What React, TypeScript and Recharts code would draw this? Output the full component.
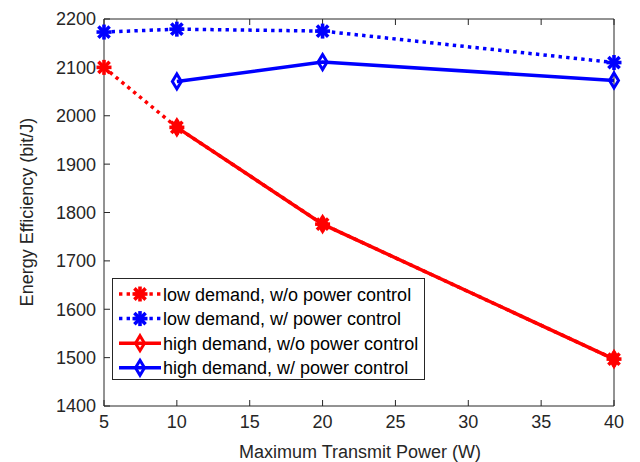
import React from 'react'
import {
    LineChart,
    Line,
    XAxis,
    YAxis,
    Legend,
    Label,
} from 'recharts';

// power levels (W)
const powers = [5, 10, 20, 40];
// energy efficiency (bit/J)
const lowDemandNoPC = [2100, 1976, 1776, 1497];
const lowDemandPC = [2173, 2179, 2175, 2110];
const highDemandNoPC = [null, 1976, 1776, 1497];
const highDemandPC = [null, 2071, 2111, 2073];

const xTicks = [5, 10, 15, 20, 25, 30, 35, 40];
const yTicks = [1400, 1500, 1600, 1700, 1800, 1900, 2000, 2100, 2200];

const seriesNames = [
    'low demand, w/o power control',
    'low demand, w/ power control',
    'high demand, w/o power control',
    'high demand, w/ power control',
];

const RED = '#ff0000';
const BLUE = '#0000ff';
const AXIS = '#262626';
const FONT = '"Liberation Sans", Arial, sans-serif';
const DOTTED = '3.4 4.2';

const data = powers.map((p, i) => ({
    power: p,
    lowNoPC: lowDemandNoPC[i],
    lowPC: lowDemandPC[i],
    highNoPC: highDemandNoPC[i],
    highPC: highDemandPC[i],
}));

// matlab-style '*' marker, drawn thick so it reads as a spiky blob
const StarMark = ({ cx, cy, color }: { cx: number, cy: number, color: string }) => {
    const r = 7.5;
    const d = r * 0.75;
    return (
        <g stroke={color} strokeWidth={3.6}>
            <line x1={cx - r} y1={cy} x2={cx + r} y2={cy} />
            <line x1={cx} y1={cy - r} x2={cx} y2={cy + r} />
            <line x1={cx - d} y1={cy - d} x2={cx + d} y2={cy + d} />
            <line x1={cx - d} y1={cy + d} x2={cx + d} y2={cy - d} />
            <circle cx={cx} cy={cy} r={3.5} fill={color} stroke="none" />
        </g>
    )
}

const DiamondMark = ({ cx, cy, color }: { cx: number, cy: number, color: string }) => (
    <polygon
        points={`${cx},${cy - 7.5} ${cx + 4.5},${cy} ${cx},${cy + 7.5} ${cx - 4.5},${cy}`}
        fill="none" stroke={color} strokeWidth={3} strokeLinejoin="miter"
    />
)

const starDot = (color: string) => (props: any) => {
    if (props.cy == null || props.value == null) return <g key={props.index} />;
    return <StarMark key={props.index} cx={props.cx} cy={props.cy} color={color} />
}

const diamondDot = (color: string) => (props: any) => {
    if (props.cy == null || props.value == null) return <g key={props.index} />;
    return <DiamondMark key={props.index} cx={props.cx} cy={props.cy} color={color} />
}

const legendRows = [
    { name: seriesNames[0], color: RED, dashed: true, mark: 'star' },
    { name: seriesNames[1], color: BLUE, dashed: true, mark: 'star' },
    { name: seriesNames[2], color: RED, dashed: false, mark: 'diamond' },
    { name: seriesNames[3], color: BLUE, dashed: false, mark: 'diamond' },
];

const LegendBox = () => (
    <div style={{
        width: 311, height: 100, border: `1px solid ${AXIS}`, background: '#fff',
        fontFamily: FONT, fontSize: 18, color: '#000',
    }}>
        <svg width={311} height={100} style={{ display: 'block' }}>
            {legendRows.map((row, i) => {
                const y = 15 + i * 24.6;
                return (
                    <g key={row.name}>
                        <line x1={6} x2={48} y1={y} y2={y} stroke={row.color} strokeWidth={3.5}
                            strokeDasharray={row.dashed ? DOTTED : undefined} />
                        {row.mark === 'star'
                            ? <StarMark cx={27} cy={y} color={row.color} />
                            : <DiamondMark cx={27} cy={y} color={row.color} />}
                        <text x={50} y={y + 6.5} fontFamily={FONT} fontSize={18} fill="#000">{row.name}</text>
                    </g>
                )
            })}
        </svg>
    </div>
)

export default function App() {
    return (
        <div style={{ position: 'absolute', left: 0, top: 0, width: 640, height: 462, background: '#fff' }}>
            <LineChart width={640} height={462} data={data} margin={{ top: 18, right: 25, left: 0, bottom: 0 }}>
                <XAxis dataKey="power" type="number" domain={[5, 40]} ticks={xTicks} height={56}
                    stroke={AXIS} tickSize={-6} tickMargin={15}
                    tick={{ fill: AXIS, fontSize: 18, fontFamily: FONT }}>
                    <Label content={() => (
                        <text x={360} y={458} textAnchor="middle" fill={AXIS} fontSize={18} fontFamily={FONT}>
                            Maximum Transmit Power (W)
                        </text>
                    )} />
                </XAxis>
                {/* box edges: top and right axes with inward ticks, no labels */}
                <XAxis xAxisId="top" dataKey="power" type="number" domain={[5, 40]} ticks={xTicks}
                    orientation="top" height={1} stroke={AXIS} tickSize={-6} tick={() => <g />} />
                <YAxis type="number" domain={[1400, 2200]} ticks={yTicks} width={104}
                    stroke={AXIS} tickSize={-6} tickMargin={14}
                    tick={{ fill: AXIS, fontSize: 18, fontFamily: FONT }}>
                    <Label content={() => (
                        <text x={33} y={212} transform="rotate(-90 33 212)" textAnchor="middle"
                            fill={AXIS} fontSize={18} fontFamily={FONT}>
                            Energy Efficiency (bit/J)
                        </text>
                    )} />
                </YAxis>
                <YAxis yAxisId="right" type="number" domain={[1400, 2200]} ticks={yTicks}
                    orientation="right" width={1} stroke={AXIS} tickSize={-6} tick={() => <g />} />
                <Legend layout="vertical" align="center" verticalAlign="middle"
                    content={() => <LegendBox />}
                    wrapperStyle={{ position: 'absolute', left: 112, top: 278, width: 313, height: 102 }} />
                <Line dataKey="lowNoPC" name={seriesNames[0]} type="linear" stroke={RED} strokeWidth={3.5}
                    strokeDasharray={DOTTED} dot={starDot(RED)} isAnimationActive={false} />
                <Line dataKey="lowPC" name={seriesNames[1]} type="linear" stroke={BLUE} strokeWidth={3.5}
                    strokeDasharray={DOTTED} dot={starDot(BLUE)} isAnimationActive={false} />
                <Line dataKey="highNoPC" name={seriesNames[2]} type="linear" stroke={RED} strokeWidth={3.5}
                    dot={diamondDot(RED)} isAnimationActive={false} />
                <Line dataKey="highPC" name={seriesNames[3]} type="linear" stroke={BLUE} strokeWidth={3.5}
                    dot={diamondDot(BLUE)} isAnimationActive={false} />
            </LineChart>
        </div>
    )
}
